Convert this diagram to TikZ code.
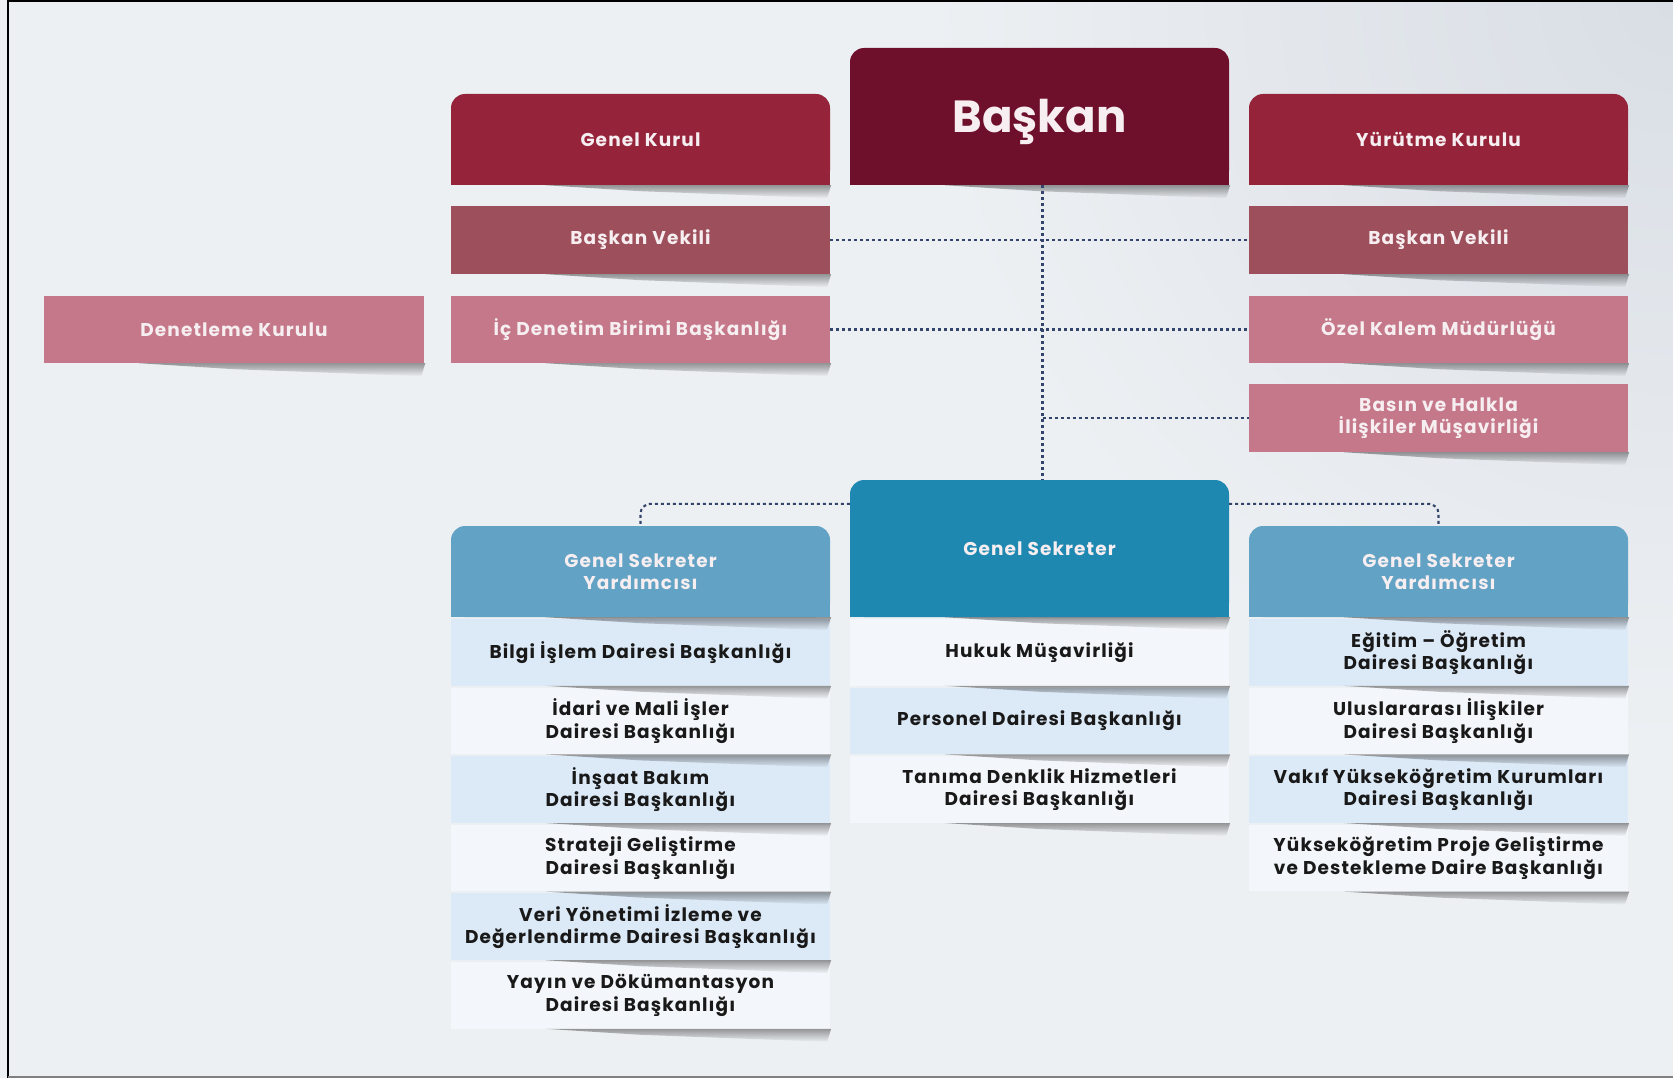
\documentclass[tikz,border=0pt]{standalone}
\usepackage{fontspec}
\setmainfont{Poppins}
\usetikzlibrary{calc,fadings}
\pgfdeclarelayer{bg}
\pgfsetlayers{bg,main}
\definecolor{bgA}{HTML}{EDF0F3}
\definecolor{bgB}{HTML}{D9DEE5}
\definecolor{maroonD}{HTML}{6E0F2C}
\definecolor{maroon}{HTML}{95243B}
\definecolor{roseC}{HTML}{9D4F5B}
\definecolor{pinkC}{HTML}{C4788A}
\definecolor{tealD}{HTML}{1E88B0}
\definecolor{tealL}{HTML}{62A2C4}
\definecolor{rowB}{HTML}{DCE9F6}
\definecolor{rowW}{HTML}{F3F6FA}
\definecolor{connC}{HTML}{34456B}
\definecolor{txtW}{HTML}{F6EEF0}
\tikzfading[name=shfade, top color=transparent!62, bottom color=transparent!100]
\newcommand\sqbottom[2]{\begin{pgfonlayer}{bg}\fill[#2] (#1.south west) rectangle (#1.east);\end{pgfonlayer}}
\newcommand\shadowbelow[1]{\fill[black, path fading=shfade] ($(#1.south west)!0.25!(#1.south east)$) -- ($(#1.south east)+(1,0)$) -- ($(#1.south east)+(-3,13)$) -- ($(#1.south west)!0.5!(#1.south east)+(0,6)$) -- cycle;}
\begin{document}
\begin{tikzpicture}[x=1pt,y=-1pt,
  base/.style={inner sep=0pt, align=center, font=\bfseries\fontsize{18.5}{22.4}\selectfont\addfontfeatures{LetterSpace=6}},
  hdr/.style={base, text=txtW, minimum width=379, rounded corners=14},
  flat/.style={base, text=txtW, minimum width=379, minimum height=67},
  rowbox/.style={base, text=black!90, minimum width=379, minimum height=66.6},
  conn/.style={draw=connC, line width=2.1pt, dash pattern=on 3pt off 3pt}
]
\useasboundingbox (0,0) rectangle (1673,1078);
\begin{pgfonlayer}{bg}
\fill[bgA] (0,0) rectangle (1673,1078);
\begin{scope}
\clip (0,0) rectangle (1673,1078);
\shade[inner color=bgB, outer color=bgA] (1673,0) circle (750);
\end{scope}
\end{pgfonlayer}
\draw[line width=2pt] (7.5,1078) -- (7.5,1) -- (1673,1);
\draw[gray, line width=1.5pt] (7.5,1077) -- (1673,1077);

% top level
\node[hdr, fill=maroonD, minimum height=137, font=\bfseries\fontsize{45}{50}\selectfont, text depth=0pt, text height=33pt] (baskan) at (1039.5,116.5) {Başkan};
\node[hdr, fill=maroon, minimum height=91] (gk) at (640.5,139.5) {Genel Kurul};
\node[hdr, fill=maroon, minimum height=91] (yk) at (1438.5,139.5) {Yürütme Kurulu};
\sqbottom{baskan}{maroonD}
\sqbottom{gk}{maroon}
\sqbottom{yk}{maroon}

\node[flat, fill=roseC, minimum height=68] (bvL) at (640.5,240) {Başkan Vekili};
\node[flat, fill=roseC, minimum height=68] (bvR) at (1438.5,240) {Başkan Vekili};
\node[flat, fill=pinkC, minimum width=380] (denet) at (234,329.5) {Denetleme Kurulu};
\node[flat, fill=pinkC] (icd) at (640.5,329.5) {İç Denetim Birimi Başkanlığı};
\node[flat, fill=pinkC] (ozel) at (1438.5,329.5) {Özel Kalem Müdürlüğü};
\node[flat, fill=pinkC, minimum height=68] (basin) at (1438.5,418) {Basın ve Halkla\\İlişkiler Müşavirliği};

% secretary level
\node[hdr, fill=tealD, minimum height=137] (gs) at (1039.5,548.5) {Genel Sekreter};
\node[hdr, fill=tealL, minimum height=91] (gsyL) at (640.5,571.5) {Genel Sekreter\\Yardımcısı};
\node[hdr, fill=tealL, minimum height=91] (gsyR) at (1438.5,571.5) {Genel Sekreter\\Yardımcısı};
\sqbottom{gs}{tealD}
\sqbottom{gsyL}{tealL}
\sqbottom{gsyR}{tealL}

% left column rows
\node[rowbox, fill=rowB] (l1) at (640.5,652.3) {Bilgi İşlem Dairesi Başkanlığı};
\node[rowbox, fill=rowW] (l2) at (640.5,720.9) {İdari ve Mali İşler\\Dairesi Başkanlığı};
\node[rowbox, fill=rowB] (l3) at (640.5,789.5) {İnşaat Bakım\\Dairesi Başkanlığı};
\node[rowbox, fill=rowW] (l4) at (640.5,858.1) {Strateji Geliştirme\\Dairesi Başkanlığı};
\node[rowbox, fill=rowB] (l5) at (640.5,926.7) {Veri Yönetimi İzleme ve\\Değerlendirme Dairesi Başkanlığı};
\node[rowbox, fill=rowW] (l6) at (640.5,995.3) {Yayın ve Dökümantasyon\\Dairesi Başkanlığı};
% center rows
\node[rowbox, fill=rowW] (c1) at (1039.5,652.3) {Hukuk Müşavirliği};
\node[rowbox, fill=rowB] (c2) at (1039.5,720.9) {Personel Dairesi Başkanlığı};
\node[rowbox, fill=rowW] (c3) at (1039.5,789.5) {Tanıma Denklik Hizmetleri\\Dairesi Başkanlığı};
% right rows
\node[rowbox, fill=rowB] (r1) at (1438.5,652.3) {Eğitim – Öğretim\\Dairesi Başkanlığı};
\node[rowbox, fill=rowW] (r2) at (1438.5,720.9) {Uluslararası İlişkiler\\Dairesi Başkanlığı};
\node[rowbox, fill=rowB] (r3) at (1438.5,789.5) {Vakıf Yükseköğretim Kurumları\\Dairesi Başkanlığı};
\node[rowbox, fill=rowW] (r4) at (1438.5,858.1) {Yükseköğretim Proje Geliştirme\\ve Destekleme Daire Başkanlığı};

% shadows
\foreach \n in {baskan,gk,yk,bvL,bvR,denet,icd,ozel,basin,gs,gsyL,gsyR,l1,l2,l3,l4,l5,l6,c1,c2,c3,r1,r2,r3,r4}{\shadowbelow{\n}}

% connectors
\coordinate (vtop) at ($(baskan.south)+(3,0)$);
\coordinate (vbot) at ($(gs.north)+(3,0)$);
\coordinate (gsL) at ($(gs.north west)+(0,24)$);
\coordinate (gsR) at ($(gs.north east)+(0,24)$);
\draw[conn] (vtop) -- (vbot);
\draw[conn] (bvL.east) -- (bvR.west);
\draw[conn] (icd.east) -- (ozel.west);
\draw[conn] (vtop |- basin.west) -- (basin.west);
\draw[conn, rounded corners=10] (gsL) -| (gsyL.north);
\draw[conn, rounded corners=10] (gsR) -| (gsyR.north);
\end{tikzpicture}
\end{document}
